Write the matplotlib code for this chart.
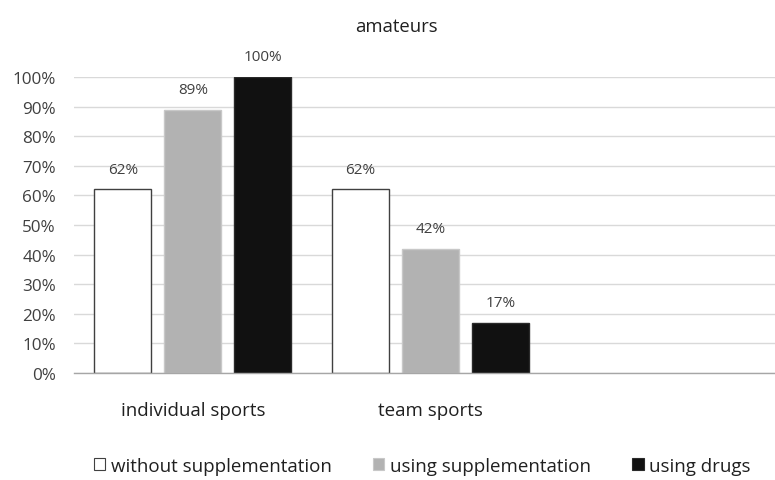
import matplotlib.pyplot as plt
import numpy as np
from matplotlib.patches import Patch

plt.rcParams['font.family'] = ['Open Sans', 'DejaVu Sans']

categories = ["individual sports", "team sports"]
series = ["without supplementation", "using supplementation", "using drugs"]
without_supp = [62, 62]
using_supp = [89, 42]
using_drugs = [100, 17]
yticks = list(range(0, 101, 10))

faces = ["#ffffff", "#b2b2b2", "#111111"]
edges = ["#404040", "#c8c8c8", "#2a2a2a"]
text_col = "#404040"

fig = plt.figure(figsize=(7.75, 4.81), dpi=100)
ax = fig.add_axes([0.0955, 0.2225, 0.9045, 0.6154])

x = np.arange(len(categories))
width = 0.24
offsets = [-0.294, 0.0, 0.294]
for vals, off, fc, ec in zip([without_supp, using_supp, using_drugs], offsets, faces, edges):
    bars = ax.bar(x + off, vals, width, color=fc, edgecolor=ec, linewidth=1.0, zorder=3)
    for b, v in zip(bars, vals):
        ax.annotate(f"{v}%", (b.get_x() + b.get_width() / 2, v), xytext=(0, 9),
                    textcoords="offset points", ha="center", va="bottom",
                    fontsize=11, color=text_col)

ax.set_xlim(-0.5, 2.45)
ax.set_ylim(0, 100)
ax.set_yticks(yticks)
ax.set_yticklabels([f"{t}%" for t in yticks], fontsize=12.3, color=text_col)
ax.set_xticks(x)
ax.set_xticklabels(categories, fontsize=13.5, color="#202020")
ax.tick_params(axis="x", length=0, pad=20)
ax.tick_params(axis="y", length=0, pad=13)
ax.yaxis.grid(True, color="#d9d9d9", linewidth=1.0, zorder=0)
for s in ["top", "right", "left"]:
    ax.spines[s].set_visible(False)
ax.spines["bottom"].set_color("#a6a6a6")
ax.spines["bottom"].set_linewidth(1.0)
ax.spines["bottom"].set_zorder(4)

fig.text(0.511, 0.944, "amateurs", ha="center", va="center", fontsize=13.3, color="#202020")

handles = [Patch(facecolor=fc, edgecolor=ec, linewidth=0.8) for fc, ec in zip(faces, edges)]
fig.legend(handles, series, loc="center", bbox_to_anchor=(0.545, 0.03), ncol=3,
           frameon=False, fontsize=13.5, handlelength=0.6, handleheight=0.6,
           handletextpad=0.3, columnspacing=2.2, labelcolor="#202020")

fig.savefig("out.png", dpi=100)
